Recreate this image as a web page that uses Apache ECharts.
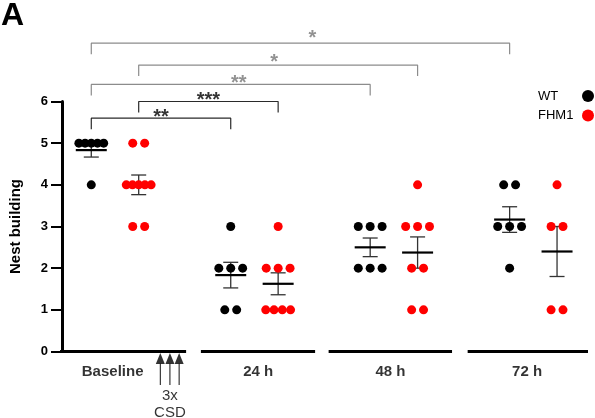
<!DOCTYPE html>
<html><head><meta charset="utf-8">
<script src="https://cdn.jsdelivr.net/npm/echarts@6/dist/echarts.min.js"></script>
<style>html,body{margin:0;padding:0;background:#fff}#c{width:595px;height:418px}</style>
</head><body><div id="c"></div>
<script>
// ---- data ----
const categories = ['Baseline', '24 h', '48 h', '72 h'];
const seriesNames = ['WT', 'FHM1'];
const wtValues = [[5,5,5,5,5,4],[3,2,2,2,1,1],[3,3,3,2,2,2],[4,4,3,3,3,2]];
const fhm1Values = [[5,5,4,4,4,4,4,3,3],[3,2,2,2,1,1,1,1],[4,3,3,3,2,2,1,1],[4,3,3,1,1]];
const yTicks = [0,1,2,3,4,5,6];
const compFrom = [[0,0],[0,1],[0,0],[0,1],[0,0]];   // [category, series]
const compTo   = [[1,0],[1,1],[2,0],[2,1],[3,0]];
const compLabels = ['**','***','**','*','*'];
const compLevels = [5.6, 6.0, 6.41, 6.875, 7.4];
const annotationText = '3x\nCSD';

// ---- layout / style ----
const FONT = '"Liberation Sans", Arial, sans-serif';
const GRID = {left: 58, right: 7, top: 101.5, bottom: 66.5};
const X_MIN = -0.21, X_MAX = 3.562;
const PX_PER_U = (595 - GRID.left - GRID.right) / (X_MAX - X_MIN);
const PX_PER_V = (418 - GRID.top - GRID.bottom) / (yTicks[yTicks.length-1] - yTicks[0]);
const SERIES_OFFSET = [0, 0.34];
const COLORS = ['#000000', '#ff0000'];
const SEGMENTS = [[-0.224,0.680],[0.786,1.605],[1.702,2.587],[2.699,3.562]];
const LABEL_X = [0.153, 1.197, 2.145, 3.125];
const ARROW_X = [0.495, 0.564, 0.63];
const COMP_COLORS = ['#2a2a2a','#2a2a2a','#8c8c8c','#8c8c8c','#8c8c8c'];
const STAR_COLORS = ['#000','#000','#777','#777','#777'];
const STAR_SHIFT = [0,0,8,-4,12];
const STAR_LIFT = [6,6,6,8,10];
const BRACKET_DROP = 11;

function jitterPx(vals){
  const counts = {}, idx = {};
  vals.forEach(v => counts[v] = (counts[v]||0) + 1);
  return vals.map(v => {
    const n = counts[v];
    const i = (idx[v] = (idx[v]||0) + 1) - 1;
    const sp = n > 1 ? Math.min(12, 25/(n-1)) : 0;
    return (i - (n-1)/2) * sp;
  });
}
function stats(vals){
  const n = vals.length, m = vals.reduce((a,b)=>a+b,0)/n;
  const sd = Math.sqrt(vals.reduce((a,b)=>a+(b-m)*(b-m),0)/(n-1));
  return [m, sd/Math.sqrt(n)];
}
const allValues = [wtValues, fhm1Values];
const series = [];

allValues.forEach((groups, s) => {
  const pts = [];
  groups.forEach((vals, g) => {
    const j = jitterPx(vals);
    vals.forEach((v, k) => pts.push([g + SERIES_OFFSET[s] + j[k]/PX_PER_U, v]));
  });
  series.push({type:'scatter', name: seriesNames[s], data: pts, symbol:'circle', symbolSize: 9,
    itemStyle:{color: COLORS[s], opacity:1}, z: 4, silent:true});
  series.push({type:'custom', name: seriesNames[s] + ' mean', z: 3, silent:true,
    data: groups.map((vals, g) => { const st = stats(vals); return [g + SERIES_OFFSET[s], st[0], st[1]]; }),
    encode:{x:0, y:1},
    renderItem: function(params, api){
      const u = api.value(0), m = api.value(1), e = api.value(2);
      const c = api.coord([u, m]), t = api.coord([u, m+e]), b = api.coord([u, m-e]);
      const es = {stroke:'#333', lineWidth:1.3};
      return {type:'group', children:[
        {type:'line', shape:{x1:c[0], y1:t[1], x2:c[0], y2:b[1]}, style: es},
        {type:'line', shape:{x1:c[0]-7.5, y1:t[1], x2:c[0]+7.5, y2:t[1]}, style: es},
        {type:'line', shape:{x1:c[0]-7.5, y1:b[1], x2:c[0]+7.5, y2:b[1]}, style: es},
        {type:'line', shape:{x1:c[0]-15.5, y1:c[1], x2:c[0]+15.5, y2:c[1]}, style:{stroke:'#000', lineWidth:2.2}}
      ]};
    }
  });
});

// broken x axis segments
SEGMENTS.forEach(sg => series.push({type:'line', data:[[sg[0],0],[sg[1],0]], symbol:'none', clip:false,
  silent:true, lineStyle:{color:'#000', width:3}, z:2}));

// category labels under the axis
series.push({type:'scatter', data: LABEL_X.map((x,i)=>({value:[x,0], name: categories[i]})), symbolSize:0.1,
  itemStyle:{color:'rgba(0,0,0,0)'}, clip:false, silent:true,
  label:{show:true, position:'inside', offset:[0,20.5], formatter: p => p.name,
    color:'#000', fontWeight:'bold', fontSize:15, fontFamily:FONT}});

// CSD arrows
series.push({type:'scatter', data: ARROW_X.map(x=>[x, -5.5/PX_PER_V - 1.5/PX_PER_V]), symbol:'triangle',
  symbolSize:[9,11], itemStyle:{color:'#000'}, clip:false, silent:true, z:5});
ARROW_X.forEach(x => series.push({type:'line', data:[[x,-12/PX_PER_V],[x,-33.5/PX_PER_V]], symbol:'none',
  clip:false, silent:true, lineStyle:{color:'#111', width:1}}));
series.push({type:'scatter', data:[[ARROW_X[1], -53/PX_PER_V]], symbolSize:0.1, itemStyle:{color:'rgba(0,0,0,0)'},
  clip:false, silent:true,
  label:{show:true, position:'inside', formatter: annotationText, color:'#000', fontSize:15,
    lineHeight:17, fontFamily:FONT, align:'center'}});

// significance brackets
compLabels.forEach((lab, i) => {
  const xl = compFrom[i][0] + SERIES_OFFSET[compFrom[i][1]];
  const xr = compTo[i][0] + SERIES_OFFSET[compTo[i][1]];
  const lv = compLevels[i], dv = BRACKET_DROP/PX_PER_V;
  series.push({type:'line', data:[[xl, lv-dv],[xl, lv],[xr, lv],[xr, lv-dv]], symbol:'none', clip:false,
    silent:true, lineStyle:{color: COMP_COLORS[i], width:1.2}});
  series.push({type:'scatter', data:[[(xl+xr)/2 + STAR_SHIFT[i]/PX_PER_U, lv]], symbolSize:0.1,
    itemStyle:{color:'rgba(0,0,0,0)'}, clip:false, silent:true,
    label:{show:true, position:'inside', offset:[0, -STAR_LIFT[i] + 5], formatter: lab,
      color: STAR_COLORS[i], fontSize:20, fontWeight:'bold', fontFamily:FONT}});
});

const chart = echarts.init(document.getElementById('c'), null, {renderer:'canvas'});
chart.setOption({
  animation:false,
  backgroundColor:'#fff',
  title:{text:'A', left:1, top:0, padding:0, textStyle:{fontSize:32, fontWeight:'bold', fontFamily:FONT, color:'#000'}},
  legend:{data: seriesNames, orient:'vertical', right:1, top:89.5, align:'right', icon:'circle',
    itemWidth:12, itemHeight:12, itemGap:6.6, selectedMode:false, padding:0,
    formatter:'{t|{name}}',
    textStyle:{fontSize:13, color:'#000', fontFamily:FONT, rich:{t:{width:39, align:'left', fontSize:13, fontFamily:FONT}}}},
  grid:{left:GRID.left, right:GRID.right, top:GRID.top, bottom:GRID.bottom, containLabel:false},
  xAxis:{type:'value', min:X_MIN, max:X_MAX, show:false},
  yAxis:{type:'value', min:yTicks[0], max:yTicks[yTicks.length-1], interval:1,
    axisLine:{show:true, onZero:false, lineStyle:{color:'#000', width:3}},
    axisTick:{show:true, length:11, lineStyle:{color:'#000', width:2}},
    axisLabel:{color:'#000', fontWeight:'bold', fontSize:13, margin:14, fontFamily:FONT},
    splitLine:{show:false},
    name:'Nest building', nameLocation:'middle', nameGap:39, nameRotate:90,
    nameTextStyle:{color:'#000', fontWeight:'bold', fontSize:15, fontFamily:FONT}},
  series: series
});
</script></body></html>
